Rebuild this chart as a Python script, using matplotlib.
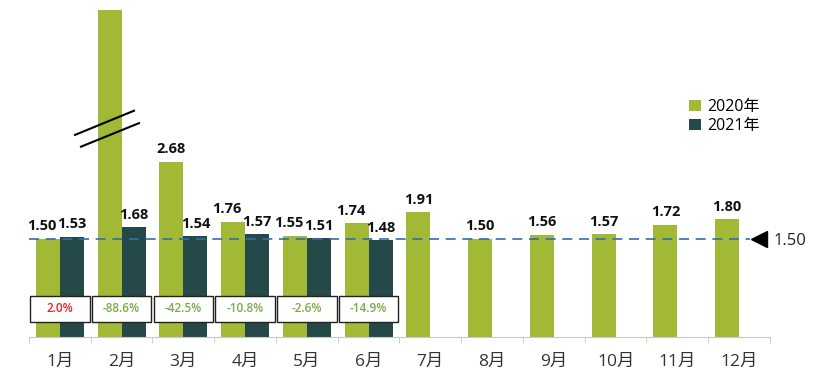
import numpy as np
import matplotlib
matplotlib.use('Agg')
from matplotlib import pyplot as plt
from matplotlib.patches import Rectangle

plt.rcParams['font.family'] = ['Open Sans', 'Noto Sans CJK SC', 'DejaVu Sans']

# 数据
months = ['1月', '2月', '3月', '4月', '5月', '6月', '7月', '8月', '9月', '10月', '11月', '12月']
values2020 = [1.50, 14.74, 2.68, 1.76, 1.55, 1.74, 1.91, 1.50, 1.56, 1.57, 1.72, 1.80]
values2021 = [1.53, 1.68, 1.54, 1.57, 1.51, 1.48]
changes = ['2.0%', '-88.6%', '-42.5%', '-10.8%', '-2.6%', '-14.9%']
baseline = 1.50

green = '#A2B935'
dark = '#254848'

fig = plt.figure(figsize=(8.37, 3.87), dpi=100)
ax = fig.add_axes([29 / 837, 50 / 387, 741 / 837, 327 / 387])

x = np.arange(len(months))
w = 0.39
ax.bar(x - w / 2, values2020, width=w, color=green, label='2020年')
x21 = np.arange(len(values2021))
ax.bar(x21 + w / 2, values2021, width=w, color=dark, label='2021年')

ax.set_xlim(-0.5, 11.5)
ax.set_ylim(0, 5.0)

# 数值标签
for i, v in enumerate(values2020):
    if v > 5.0:
        continue
    shift = -0.1 if i < len(values2021) and v < 2 else 0
    ax.annotate('%.2f' % v, (i - w / 2 + shift, v), xytext=(0, 4), textcoords='offset points',
                ha='center', va='bottom', fontsize=10.5, fontweight='bold', color='#111111')
for i, v in enumerate(values2021):
    ax.annotate('%.2f' % v, (i + w / 2, v), xytext=(0, 4), textcoords='offset points',
                ha='center', va='bottom', fontsize=10.5, fontweight='bold', color='#111111')

# 同比变化框
for i, c in enumerate(changes):
    ax.add_patch(Rectangle((i - 0.48, 0.23), 0.96, 0.40, facecolor='white',
                           edgecolor='#222222', linewidth=1.0, zorder=3))
    col = '#E8202A' if not c.startswith('-') else '#7BAA4A'
    ax.text(i, 0.43, c, ha='center', va='center', fontsize=8.5, fontweight='semibold',
            color=col, zorder=4)

# 基准线
ax.plot([-0.5, 11.17], [baseline, baseline], color='#2F6EB5', linestyle=(0, (6, 4)),
        linewidth=1.2, zorder=2)
ax.plot([11.32], [baseline], marker='<', markersize=11, color='black', clip_on=False)
ax.text(11.55, baseline - 0.03, '%.2f' % baseline, ha='left', va='center', fontsize=12,
        color='#222222', clip_on=False)

# 断轴标记
ax.plot([0.245, 1.20], [3.09, 3.46], color='black', linewidth=1.5, clip_on=False)
ax.plot([0.342, 1.281], [2.91, 3.27], color='black', linewidth=1.5, clip_on=False)

# 坐标轴样式
for s in ['top', 'right', 'left']:
    ax.spines[s].set_visible(False)
ax.spines['bottom'].set_color('#C8C8C8')
ax.set_yticks([])
ax.set_xticks(x)
ax.set_xticklabels(months, fontsize=12.5, color='#333333')
ax.tick_params(axis='x', which='major', length=0, pad=12)
ax.set_xticks(np.arange(-0.5, 12, 1), minor=True)
ax.tick_params(axis='x', which='minor', length=4, color='#C8C8C8')

ax.legend(loc='upper left', bbox_to_anchor=(675 / 837, 1 - 85 / 387), bbox_transform=fig.transFigure,
          frameon=False, fontsize=11.5, handlelength=0.7, handleheight=0.7, handletextpad=0.4,
          labelspacing=0.15)

plt.savefig('out.png', dpi=100)
